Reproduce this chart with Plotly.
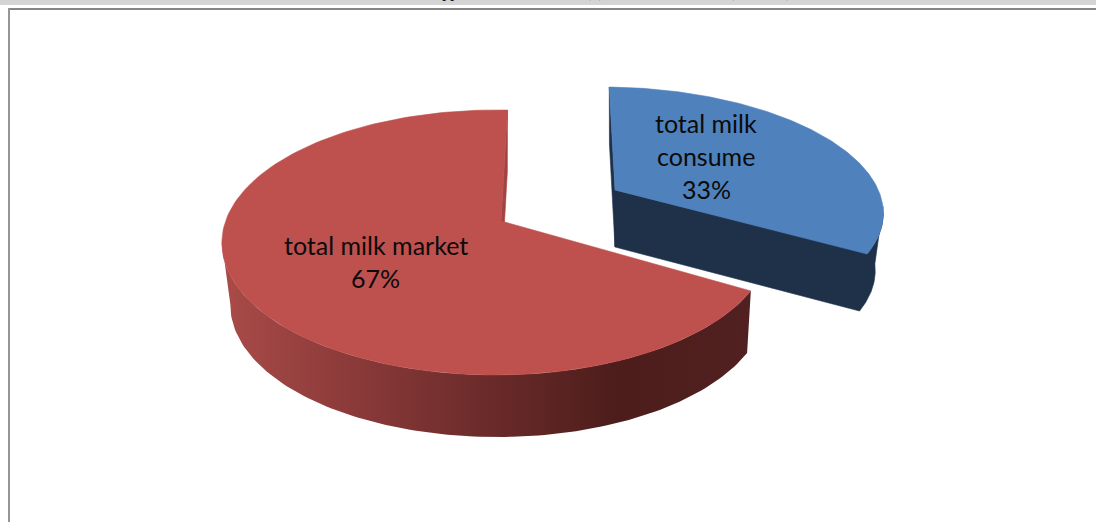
import numpy as np
import plotly.graph_objects as go

# Share of each use of total milk, in percent
categories = ["total milk market", "total milk consume"]
shares = [67, 33]
label_lines = [["total milk market"], ["total milk", "consume"]]
caption = "Source: appendix table number (3) Abdel Rahman Ali (2010-11)"

RED_TOP = "#BE504D"
RED_CUT = "#A04543"
RED_SIDE_STOPS = [[0, "#A94B49"], [0.25, "#8A3A39"], [0.5, "#6B2B2A"], [0.75, "#4C1D1B"], [1, "#502120"]]
BLUE_TOP = "#4F81BD"
BLUE_SIDE = "#1E3149"
TEXT = "#0B0B0B"
FONT = "Lato"

START_DEG = 30.4  # where the market wedge begins, measured on the pie's own plane

# Oblique projection of each wedge: apex in page units, radii, perspective and skew terms
red_view = dict(ax=501, ay=221, a=270.4, b=129.0, p=0.162, q=-0.018, s=0.0, kx=0.977, rim_dx=2.0, drop=62)
blue_view = dict(ax=615, ay=190, a=263.3, b=117.5, p=0.141, q=0.0, s=13.9, kx=0.97, rim_dx=0.0, drop=57)


def project(view, deg, lower=False):
    t = np.radians(np.asarray(deg, dtype=float))
    c, n = np.cos(t), np.sin(t)
    d = 1 - view["p"] * n - view["q"] * c
    x = (view["a"] * c + view["s"] * n) / d
    y = view["b"] * n / d
    if lower:
        return view["ax"] + view["kx"] * x, view["ay"] + y + view["drop"]
    return view["ax"] + x, view["ay"] + y


def top_face(view, a0, a1):
    arc = np.linspace(a0, a1, 160)
    x, y = project(view, arc)
    return np.r_[view["ax"], x, view["ax"]], np.r_[view["ay"], y, view["ay"]]


def outer_side(view, a0, a1):
    arc = np.linspace(a0, a1, 120)
    xt, yt = project(view, arc)
    xb, yb = project(view, arc, lower=True)
    xb = xb + view["rim_dx"]
    return np.r_[xt, xb[::-1], xt[0]], np.r_[yt, yb[::-1], yt[0]]


def cut_face(view, deg):
    xt, yt = project(view, [deg])
    xb, yb = project(view, [deg], lower=True)
    ax, ay = view["ax"], view["ay"]
    return [ax, xt[0], xb[0], ax, ax], [ay, yt[0], yb[0], ay + view["drop"], ay]


def cut_and_rim(view, rim_from, deg):
    # Front cut face and the outer rim as one outline, so no seam shows between them
    arc = np.linspace(deg, rim_from, 80)
    xt, yt = project(view, arc)
    xb, yb = project(view, arc[::-1], lower=True)
    ax, ay = view["ax"], view["ay"]
    return np.r_[ax, xt, xb, ax, ax], np.r_[ay, yt, yb, ay + view["drop"], ay]


red_sweep = shares[0] / sum(shares) * 360
blue_sweep = shares[1] / sum(shares) * 360
red_end = START_DEG + red_sweep
blue_end = red_end + blue_sweep


def solid(xy, color):
    return go.Scatter(x=xy[0], y=xy[1], mode="lines", fill="toself", fillcolor=color,
                      line=dict(width=0.6, color=color), hoverinfo="skip", showlegend=False)


fig = go.Figure()

# Pulled-out consumption wedge, drawn back to front; its rim starts at the right-hand extreme
fig.add_trace(solid(cut_face(blue_view, red_end), BLUE_SIDE))
fig.add_trace(solid(cut_and_rim(blue_view, 368, blue_end), BLUE_SIDE))
fig.add_trace(solid(top_face(blue_view, red_end, blue_end), BLUE_TOP))

# Market wedge: cut edge, rim with its shading up to the left-hand extreme, then the top face
fig.add_trace(solid(cut_face(red_view, red_end), RED_CUT))
rim_x, rim_y = outer_side(red_view, START_DEG, 171)
fig.add_trace(go.Scatter(
    x=rim_x, y=rim_y, mode="lines", fill="toself", line=dict(width=0), hoverinfo="skip",
    showlegend=False,
    fillgradient=dict(type="horizontal", colorscale=RED_SIDE_STOPS),
))
fig.add_trace(solid(top_face(red_view, START_DEG, red_end), RED_TOP))


def add_label(lines, share, cx, first_y, step=33):
    for i, line in enumerate(lines + [f"{share}%"]):
        fig.add_annotation(x=cx, y=first_y + i * step, xref="x", yref="y", text=line,
                           showarrow=False, font=dict(family=FONT, size=25, color=TEXT))


add_label(label_lines[0], shares[0], 375.5, 244.5)
add_label(label_lines[1], shares[1], 706, 122.5)

fig.add_annotation(x=380, y=3, xref="x", yref="y", text=caption, showarrow=False,
                   xanchor="left", yanchor="bottom",
                   font=dict(family="Liberation Serif", size=16, color="#000000", style="italic"))

# Page band above the chart and the chart's frame
frame = [
    dict(x0=0, x1=1096, y0=0, y1=5, fillcolor="#D4D4D4"),
    dict(x0=8, x1=1096, y0=8, y1=10, fillcolor="#858585"),
    dict(x0=8, x1=10, y0=8, y1=522, fillcolor="#959595"),
]
for r in frame:
    fig.add_shape(type="rect", xref="x", yref="y", line_width=0, layer="below", **r)

fig.update_xaxes(range=[0, 1096], visible=False, fixedrange=True)
fig.update_yaxes(range=[522, 0], visible=False, fixedrange=True)
fig.update_layout(width=1096, height=522, margin=dict(l=0, r=0, t=0, b=0),
                  paper_bgcolor="#FFFFFF", plot_bgcolor="#FFFFFF", showlegend=False)

fig.write_html("out.html", config=dict(displayModeBar=False))
